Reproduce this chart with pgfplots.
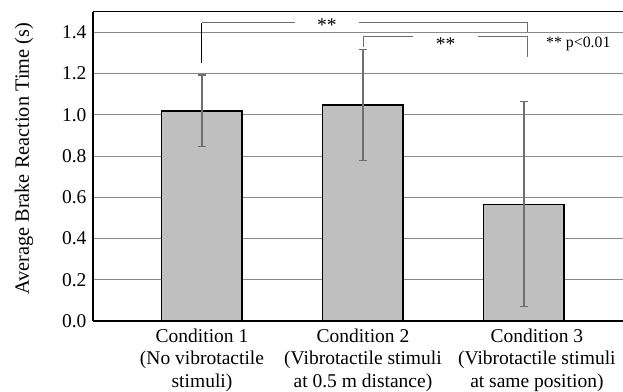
\documentclass[border=0pt]{standalone}
\usepackage{fontspec}
\setmainfont{Liberation Serif}
\usepackage{pgfplots}
\pgfplotsset{compat=1.18}
\definecolor{barfill}{HTML}{BFBFBF}
\definecolor{gridc}{HTML}{8A8A8A}
\definecolor{errc}{HTML}{6E6E6E}
\newcommand{\bigf}{\fontsize{19.5bp}{22.5bp}\selectfont}
\begin{document}
\begin{tikzpicture}
\begin{axis}[
  name=ax,
  scale only axis, width=530bp, height=309.3bp,
  xmin=-0.677, xmax=2.615, ymin=0, ymax=1.5,
  axis y line*=left,
  y axis line style={-},
  axis line style={line width=1.3bp, black},
  ytick={0,0.2,0.4,0.6,0.8,1.0,1.2,1.4},
  ymajorgrids, grid style={gridc, line width=1bp},
  major tick length=0,
  /pgf/number format/assume math mode=true,
  yticklabel style={/pgf/number format/.cd, fixed, fixed zerofill, precision=1, /tikz/.cd, font=\bigf, xshift=-3bp},
  xtick={0,1},
  xticklabels={{Condition 1\\(No vibrotactile\\stimuli)},{Condition 2\\(Vibrotactile stimuli\\at 0.5 m distance)}},
  extra x ticks={2.08},
  extra x tick labels={{Condition 3\\(Vibrotactile stimuli\\at same position)}},
  xticklabel style={align=center, font=\bigf, yshift=-4bp},
  ylabel={Average Brake Reaction Time (s)},
  ylabel style={at={(axis description cs:-0.1302,0.524)}, anchor=center, font=\fontsize{20.3bp}{24bp}\selectfont},
  clip=false,
  ybar, bar width=80.5bp,
]
\addplot[fill=barfill, draw=black, line width=1.5bp,
  error bars/.cd, y dir=both, y explicit,
  error bar style={errc, line width=1.3bp},
  error mark options={rotate=90, mark size=4bp, errc, line width=1.3bp}]
  coordinates {(0,1.019) +- (0,0.174) (1,1.0475) +- (0,0.27) (2,0.566) +- (0,0.497)};
\draw[black, line width=1bp] (axis cs:0,1.251) -- (axis cs:0,1.447);
\draw[errc, line width=1bp] (axis cs:0,1.447) -- (axis cs:0.578,1.447);
\draw[errc, line width=1bp] (axis cs:0.975,1.447) -- (axis cs:2.023,1.447) -- (axis cs:2.023,1.40);
\node[anchor=base, inner sep=0, font=\bigf] at (axis cs:0.776,1.406) {**};
\draw[errc, line width=1bp] (axis cs:1.313,1.382) -- (axis cs:1.006,1.382) -- (axis cs:1.006,1.33);
\draw[errc, line width=1bp] (axis cs:1.716,1.382) -- (axis cs:2.023,1.382) -- (axis cs:2.023,1.278);
\node[anchor=base, inner sep=0, font=\bigf] at (axis cs:1.514,1.310) {**};
\node[anchor=base west, inner sep=0, font=\fontsize{15.8bp}{18bp}\selectfont] at (axis cs:2.137,1.326) {** p<0.01};
\end{axis}
\pgfresetboundingbox
\path[use as bounding box] ([xshift=-93bp,yshift=-71bp]ax.south west) rectangle ([yshift=11.7bp]ax.north east);
\end{tikzpicture}
\end{document}
